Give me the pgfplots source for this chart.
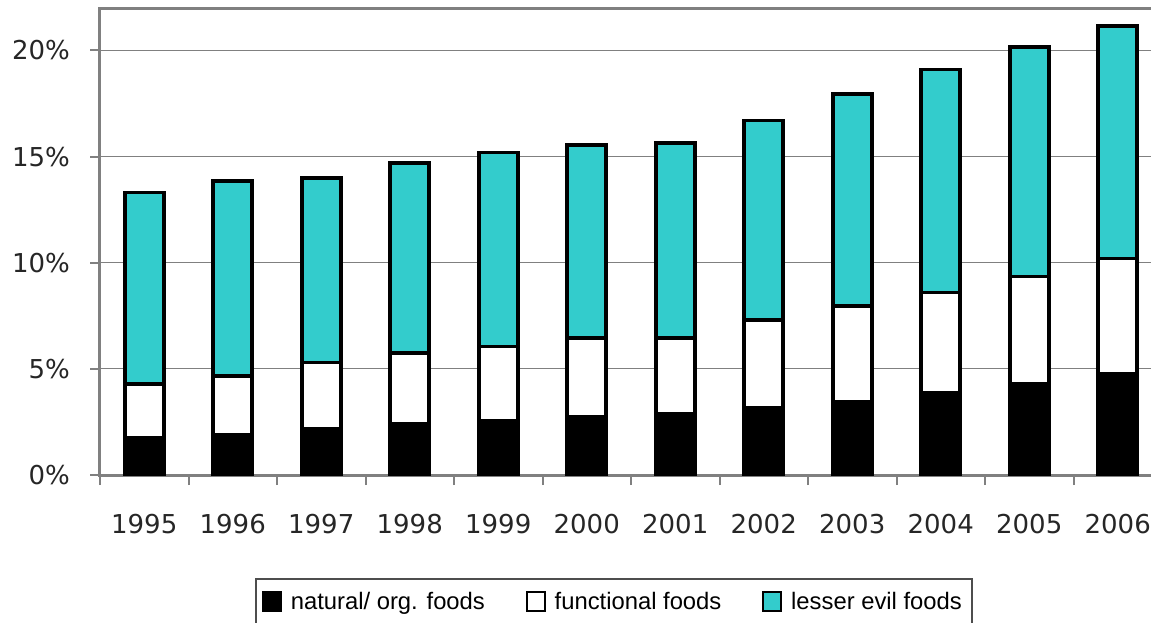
\documentclass[border=0pt]{standalone}
\usepackage{fontspec}
\setmainfont{DejaVu Sans}
\newfontfamily\legfont{Liberation Sans}
\usepackage{pgfplots}
\pgfplotsset{compat=1.18}
\definecolor{tealbar}{RGB}{51,204,204}
\definecolor{axgray}{RGB}{128,128,128}
\begin{document}
\begin{tikzpicture}[x=1pt,y=1pt]
\useasboundingbox (0,0) rectangle (575.5,311);
\begin{axis}[
  scale only axis, width=531pt, height=233.5pt,
  at={(50pt,73.5pt)}, anchor=south west,
  ybar stacked, bar width=19.5pt,
  xmin=-0.5, xmax=11.5, ymin=0, ymax=22,
  xtick={-0.5,0.5,...,11.5},
  x tick label as interval,
  xticklabels={1995,1996,1997,1998,1999,2000,2001,2002,2003,2004,2005,2006},
  ytick={0,5,10,15,20},
  yticklabels={0\%,5\%,10\%,15\%,20\%},
  ymajorgrids,
  grid style={axgray, line width=0.6pt},
  axis line style={axgray, line width=1.5pt},
  tick style={axgray, line width=1pt},
  major tick length=5pt,
  tick align=outside, tick pos=left,
  ticklabel style={font=\fontsize{13}{15}\selectfont, text=black!85},
  xticklabel style={yshift=-11pt},
  yticklabel style={xshift=-6.5pt},
  legend columns=3,
  legend style={at={(axis description cs:0.146,-0.2206)}, anchor=north west,
    draw=axgray!60!black, line width=1pt,
    font=\legfont\fontsize{11.9}{14}\selectfont,
    inner ysep=4.5pt, inner xsep=3pt,
    /tikz/every even column/.append style={column sep=18.5pt}},
  legend image code/.code={\draw[#1, line width=1pt] (1pt,-4.5pt) rectangle (10pt,5pt);
    \path (12pt,0pt);},
]
\addplot[fill=black, draw=black, line width=1.8pt] coordinates {
(0,1.75) (1,1.9) (2,2.2) (3,2.4) (4,2.55) (5,2.75) (6,2.9) (7,3.15) (8,3.45) (9,3.85) (10,4.3) (11,4.75)};
\addplot[fill=white, draw=black, line width=1.8pt] coordinates {
(0,2.55) (1,2.75) (2,3.1) (3,3.35) (4,3.5) (5,3.7) (6,3.55) (7,4.15) (8,4.5) (9,4.75) (10,5.05) (11,5.45)};
\addplot[fill=tealbar, draw=black, line width=1.8pt] coordinates {
(0,9.0) (1,9.2) (2,8.7) (3,8.95) (4,9.15) (5,9.1) (6,9.2) (7,9.4) (8,10.0) (9,10.5) (10,10.8) (11,10.95)};
\legend{natural/ org. foods, functional foods, lesser evil foods}
\end{axis}
\end{tikzpicture}
\end{document}
